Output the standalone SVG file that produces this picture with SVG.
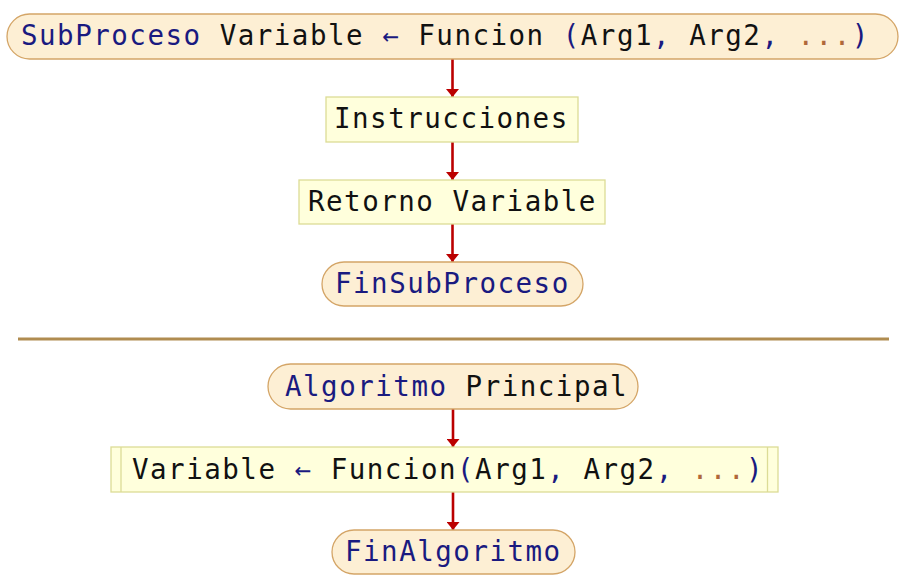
<svg xmlns="http://www.w3.org/2000/svg" width="909" height="584" viewBox="0 0 909 584">
<style>
.pill{fill:#fdefd4;stroke:#d4a567;stroke-width:1.3}
.box{fill:#ffffdc;stroke:#dcdc96;stroke-width:1.3}
.t{font-family:"DejaVu Sans Mono","Liberation Mono",monospace;font-size:27.5px;letter-spacing:1.5px;fill:#111}
.k{fill:#1a1a80}
.d{fill:#b0683a}
.c{stroke:#bb0000;stroke-width:2.6;fill:none}
</style>
<defs>
<marker id="ah" viewBox="0 0 8 13" refX="8" refY="6.5" markerWidth="8" markerHeight="13" markerUnits="userSpaceOnUse" orient="auto">
<path d="M0,0 L8,6.5 L0,13 Z" fill="#bb0000"/>
</marker>
</defs>
<rect width="909" height="584" fill="#fff"/>
<g id="connectors">
<line class="c" x1="452.5" y1="59" x2="452.5" y2="97" marker-end="url(#ah)"/>
<line class="c" x1="452.5" y1="142" x2="452.5" y2="180" marker-end="url(#ah)"/>
<line class="c" x1="452.5" y1="224" x2="452.5" y2="262" marker-end="url(#ah)"/>
<line class="c" x1="453" y1="409" x2="453" y2="447" marker-end="url(#ah)"/>
<line class="c" x1="453" y1="492" x2="453" y2="530" marker-end="url(#ah)"/>
</g>
<g id="n-subproceso">
<rect class="pill" x="7" y="14" width="891" height="45" rx="22.5"/>
<text class="t" x="21" y="45"><tspan class="k">SubProceso</tspan> Variable <tspan class="k">←</tspan> Funcion <tspan class="k">(</tspan>Arg1<tspan class="k">,</tspan> Arg2<tspan class="k">,</tspan> <tspan class="d">...</tspan><tspan class="k">)</tspan></text>
</g>
<g id="n-instrucciones">
<rect class="box" x="326" y="97" width="252" height="45"/>
<text class="t" x="334" y="128">Instrucciones</text>
</g>
<g id="n-retorno">
<rect class="box" x="299" y="180" width="306" height="44"/>
<text class="t" x="308" y="211">Retorno Variable</text>
</g>
<g id="n-finsubproceso">
<rect class="pill" x="322" y="262" width="261" height="44" rx="22"/>
<text class="t k" x="335" y="293">FinSubProceso</text>
</g>
<g id="separator">
<line x1="18" y1="339" x2="889" y2="339" stroke="#b08c50" stroke-width="3"/>
</g>
<g id="n-algoritmo">
<rect class="pill" x="268" y="364" width="370" height="45" rx="22.5"/>
<text class="t" x="285" y="396"><tspan class="k">Algoritmo</tspan> Principal</text>
</g>
<g id="n-llamada">
<rect class="box" x="111" y="447" width="667" height="45"/>
<line x1="121" y1="447" x2="121" y2="492" stroke="#dcdc96" stroke-width="1.3"/>
<line x1="767.5" y1="447" x2="767.5" y2="492" stroke="#dcdc96" stroke-width="1.3"/>
<text class="t" x="132" y="479">Variable <tspan class="k">←</tspan> Funcion<tspan class="k">(</tspan>Arg1<tspan class="k">,</tspan> Arg2<tspan class="k">,</tspan> <tspan class="d">...</tspan><tspan class="k">)</tspan></text>
</g>
<g id="n-finalgoritmo">
<rect class="pill" x="332" y="530" width="243" height="44" rx="22"/>
<text class="t k" x="345" y="561">FinAlgoritmo</text>
</g>
</svg>
